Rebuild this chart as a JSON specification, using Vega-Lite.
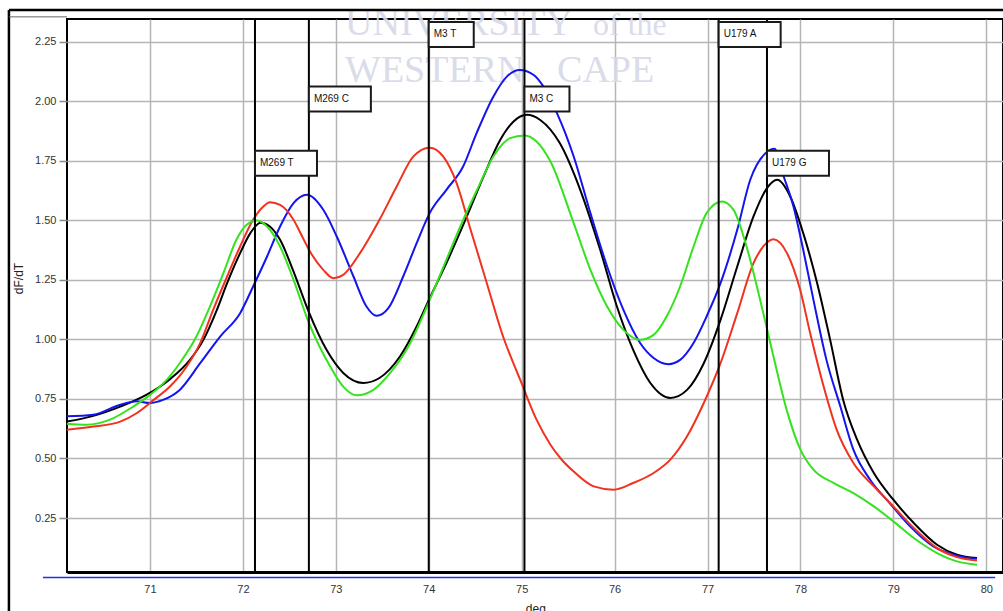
{
  "$schema": "https://vega.github.io/schema/vega-lite/v6.json",
  "width": 936,
  "height": 553,
  "autosize": {"type": "none"},
  "padding": {"left": 67, "top": 19, "right": 0, "bottom": 39},
  "background": "white",
  "config": {
    "view": {"stroke": "#000", "strokeWidth": 2},
    "font": "Liberation Sans"
  },
  "datasets": {
    "curves": [
      {"t":70.105,"v":0.655,"s":"black"},{"t":70.39,"v":0.679,"s":"black"},{"t":70.68,"v":0.718,"s":"black"},{"t":70.96,"v":0.767,"s":"black"},{"t":71.215,"v":0.833,"s":"black"},{"t":71.43,"v":0.914,"s":"black"},{"t":71.575,"v":0.998,"s":"black"},{"t":71.72,"v":1.124,"s":"black"},{"t":71.83,"v":1.236,"s":"black"},{"t":71.97,"v":1.362,"s":"black"},{"t":72.08,"v":1.446,"s":"black"},{"t":72.19,"v":1.49,"s":"black"},{"t":72.29,"v":1.474,"s":"black"},{"t":72.4,"v":1.418,"s":"black"},{"t":72.54,"v":1.29,"s":"black"},{"t":72.7,"v":1.124,"s":"black"},{"t":72.9,"v":0.956,"s":"black"},{"t":73.08,"v":0.859,"s":"black"},{"t":73.295,"v":0.817,"s":"black"},{"t":73.47,"v":0.838,"s":"black"},{"t":73.69,"v":0.928,"s":"black"},{"t":73.87,"v":1.054,"s":"black"},{"t":74.01,"v":1.173,"s":"black"},{"t":74.19,"v":1.32,"s":"black"},{"t":74.41,"v":1.516,"s":"black"},{"t":74.59,"v":1.684,"s":"black"},{"t":74.77,"v":1.838,"s":"black"},{"t":74.91,"v":1.914,"s":"black"},{"t":75.055,"v":1.943,"s":"black"},{"t":75.2,"v":1.921,"s":"black"},{"t":75.41,"v":1.824,"s":"black"},{"t":75.63,"v":1.628,"s":"black"},{"t":75.845,"v":1.376,"s":"black"},{"t":76.025,"v":1.138,"s":"black"},{"t":76.2,"v":0.956,"s":"black"},{"t":76.385,"v":0.817,"s":"black"},{"t":76.6,"v":0.754,"s":"black"},{"t":76.78,"v":0.788,"s":"black"},{"t":76.96,"v":0.9,"s":"black"},{"t":77.14,"v":1.082,"s":"black"},{"t":77.32,"v":1.306,"s":"black"},{"t":77.495,"v":1.516,"s":"black"},{"t":77.64,"v":1.635,"s":"black"},{"t":77.75,"v":1.67,"s":"black"},{"t":77.89,"v":1.6,"s":"black"},{"t":78.03,"v":1.446,"s":"black"},{"t":78.18,"v":1.236,"s":"black"},{"t":78.32,"v":0.998,"s":"black"},{"t":78.46,"v":0.746,"s":"black"},{"t":78.61,"v":0.579,"s":"black"},{"t":78.79,"v":0.439,"s":"black"},{"t":79.0,"v":0.327,"s":"black"},{"t":79.22,"v":0.229,"s":"black"},{"t":79.47,"v":0.138,"s":"black"},{"t":79.685,"v":0.096,"s":"black"},{"t":79.9,"v":0.082,"s":"black"},

      {"t":70.105,"v":0.677,"s":"blue"},{"t":70.39,"v":0.684,"s":"blue"},{"t":70.68,"v":0.726,"s":"blue"},{"t":70.86,"v":0.74,"s":"blue"},{"t":71.0,"v":0.733,"s":"blue"},{"t":71.14,"v":0.746,"s":"blue"},{"t":71.32,"v":0.788,"s":"blue"},{"t":71.54,"v":0.9,"s":"blue"},{"t":71.755,"v":1.012,"s":"blue"},{"t":71.97,"v":1.11,"s":"blue"},{"t":72.11,"v":1.222,"s":"blue"},{"t":72.26,"v":1.348,"s":"blue"},{"t":72.4,"v":1.474,"s":"blue"},{"t":72.545,"v":1.572,"s":"blue"},{"t":72.69,"v":1.607,"s":"blue"},{"t":72.865,"v":1.544,"s":"blue"},{"t":73.01,"v":1.432,"s":"blue"},{"t":73.19,"v":1.264,"s":"blue"},{"t":73.33,"v":1.138,"s":"blue"},{"t":73.44,"v":1.099,"s":"blue"},{"t":73.565,"v":1.131,"s":"blue"},{"t":73.725,"v":1.264,"s":"blue"},{"t":73.87,"v":1.404,"s":"blue"},{"t":74.01,"v":1.53,"s":"blue"},{"t":74.19,"v":1.628,"s":"blue"},{"t":74.37,"v":1.726,"s":"blue"},{"t":74.515,"v":1.866,"s":"blue"},{"t":74.695,"v":2.019,"s":"blue"},{"t":74.84,"v":2.103,"s":"blue"},{"t":74.98,"v":2.131,"s":"blue"},{"t":75.13,"v":2.11,"s":"blue"},{"t":75.235,"v":2.061,"s":"blue"},{"t":75.38,"v":1.95,"s":"blue"},{"t":75.56,"v":1.768,"s":"blue"},{"t":75.74,"v":1.53,"s":"blue"},{"t":75.92,"v":1.306,"s":"blue"},{"t":76.095,"v":1.124,"s":"blue"},{"t":76.275,"v":0.985,"s":"blue"},{"t":76.42,"v":0.922,"s":"blue"},{"t":76.58,"v":0.896,"s":"blue"},{"t":76.705,"v":0.914,"s":"blue"},{"t":76.85,"v":0.985,"s":"blue"},{"t":76.99,"v":1.096,"s":"blue"},{"t":77.14,"v":1.236,"s":"blue"},{"t":77.32,"v":1.46,"s":"blue"},{"t":77.46,"v":1.67,"s":"blue"},{"t":77.625,"v":1.782,"s":"blue"},{"t":77.72,"v":1.8,"s":"blue"},{"t":77.82,"v":1.684,"s":"blue"},{"t":77.925,"v":1.558,"s":"blue"},{"t":78.03,"v":1.376,"s":"blue"},{"t":78.14,"v":1.166,"s":"blue"},{"t":78.28,"v":0.914,"s":"blue"},{"t":78.43,"v":0.718,"s":"blue"},{"t":78.57,"v":0.537,"s":"blue"},{"t":78.75,"v":0.411,"s":"blue"},{"t":78.96,"v":0.313,"s":"blue"},{"t":79.18,"v":0.215,"s":"blue"},{"t":79.43,"v":0.131,"s":"blue"},{"t":79.685,"v":0.092,"s":"blue"},{"t":79.9,"v":0.079,"s":"blue"},

      {"t":70.105,"v":0.621,"s":"red"},{"t":70.39,"v":0.634,"s":"red"},{"t":70.68,"v":0.655,"s":"red"},{"t":70.86,"v":0.691,"s":"red"},{"t":71.04,"v":0.746,"s":"red"},{"t":71.215,"v":0.802,"s":"red"},{"t":71.395,"v":0.886,"s":"red"},{"t":71.54,"v":0.984,"s":"red"},{"t":71.68,"v":1.124,"s":"red"},{"t":71.83,"v":1.264,"s":"red"},{"t":71.97,"v":1.39,"s":"red"},{"t":72.11,"v":1.502,"s":"red"},{"t":72.22,"v":1.558,"s":"red"},{"t":72.29,"v":1.576,"s":"red"},{"t":72.4,"v":1.565,"s":"red"},{"t":72.545,"v":1.502,"s":"red"},{"t":72.615,"v":1.45,"s":"red"},{"t":72.72,"v":1.37,"s":"red"},{"t":72.865,"v":1.292,"s":"red"},{"t":72.975,"v":1.257,"s":"red"},{"t":73.08,"v":1.271,"s":"red"},{"t":73.26,"v":1.362,"s":"red"},{"t":73.47,"v":1.502,"s":"red"},{"t":73.655,"v":1.642,"s":"red"},{"t":73.835,"v":1.768,"s":"red"},{"t":74.01,"v":1.805,"s":"red"},{"t":74.155,"v":1.768,"s":"red"},{"t":74.3,"v":1.656,"s":"red"},{"t":74.44,"v":1.474,"s":"red"},{"t":74.625,"v":1.236,"s":"red"},{"t":74.8,"v":1.012,"s":"red"},{"t":74.985,"v":0.83,"s":"red"},{"t":75.16,"v":0.663,"s":"red"},{"t":75.31,"v":0.558,"s":"red"},{"t":75.42,"v":0.5,"s":"red"},{"t":75.56,"v":0.445,"s":"red"},{"t":75.775,"v":0.383,"s":"red"},{"t":75.99,"v":0.369,"s":"red"},{"t":76.2,"v":0.397,"s":"red"},{"t":76.42,"v":0.439,"s":"red"},{"t":76.6,"v":0.495,"s":"red"},{"t":76.78,"v":0.593,"s":"red"},{"t":76.96,"v":0.733,"s":"red"},{"t":77.14,"v":0.9,"s":"red"},{"t":77.32,"v":1.11,"s":"red"},{"t":77.495,"v":1.32,"s":"red"},{"t":77.6,"v":1.39,"s":"red"},{"t":77.71,"v":1.42,"s":"red"},{"t":77.855,"v":1.362,"s":"red"},{"t":77.997,"v":1.208,"s":"red"},{"t":78.105,"v":1.026,"s":"red"},{"t":78.25,"v":0.802,"s":"red"},{"t":78.39,"v":0.621,"s":"red"},{"t":78.57,"v":0.481,"s":"red"},{"t":78.79,"v":0.383,"s":"red"},{"t":79.0,"v":0.299,"s":"red"},{"t":79.22,"v":0.208,"s":"red"},{"t":79.47,"v":0.124,"s":"red"},{"t":79.685,"v":0.086,"s":"red"},{"t":79.9,"v":0.072,"s":"red"},

      {"t":70.105,"v":0.646,"s":"green"},{"t":70.32,"v":0.642,"s":"green"},{"t":70.57,"v":0.663,"s":"green"},{"t":70.82,"v":0.718,"s":"green"},{"t":71.0,"v":0.767,"s":"green"},{"t":71.18,"v":0.83,"s":"green"},{"t":71.32,"v":0.9,"s":"green"},{"t":71.5,"v":1.012,"s":"green"},{"t":71.645,"v":1.138,"s":"green"},{"t":71.79,"v":1.278,"s":"green"},{"t":71.93,"v":1.418,"s":"green"},{"t":72.04,"v":1.481,"s":"green"},{"t":72.15,"v":1.499,"s":"green"},{"t":72.26,"v":1.474,"s":"green"},{"t":72.4,"v":1.39,"s":"green"},{"t":72.545,"v":1.25,"s":"green"},{"t":72.705,"v":1.075,"s":"green"},{"t":72.94,"v":0.886,"s":"green"},{"t":73.08,"v":0.802,"s":"green"},{"t":73.225,"v":0.765,"s":"green"},{"t":73.405,"v":0.788,"s":"green"},{"t":73.585,"v":0.859,"s":"green"},{"t":73.8,"v":0.984,"s":"green"},{"t":73.98,"v":1.138,"s":"green"},{"t":74.16,"v":1.306,"s":"green"},{"t":74.34,"v":1.474,"s":"green"},{"t":74.52,"v":1.628,"s":"green"},{"t":74.695,"v":1.768,"s":"green"},{"t":74.875,"v":1.845,"s":"green"},{"t":75.03,"v":1.856,"s":"green"},{"t":75.16,"v":1.831,"s":"green"},{"t":75.31,"v":1.747,"s":"green"},{"t":75.56,"v":1.488,"s":"green"},{"t":75.74,"v":1.292,"s":"green"},{"t":75.92,"v":1.138,"s":"green"},{"t":76.095,"v":1.04,"s":"green"},{"t":76.275,"v":0.998,"s":"green"},{"t":76.42,"v":1.019,"s":"green"},{"t":76.56,"v":1.096,"s":"green"},{"t":76.705,"v":1.222,"s":"green"},{"t":76.85,"v":1.39,"s":"green"},{"t":76.99,"v":1.53,"s":"green"},{"t":77.155,"v":1.579,"s":"green"},{"t":77.28,"v":1.544,"s":"green"},{"t":77.42,"v":1.39,"s":"green"},{"t":77.57,"v":1.16,"s":"green"},{"t":77.71,"v":0.928,"s":"green"},{"t":77.855,"v":0.7,"s":"green"},{"t":78.0,"v":0.537,"s":"green"},{"t":78.14,"v":0.453,"s":"green"},{"t":78.36,"v":0.397,"s":"green"},{"t":78.57,"v":0.355,"s":"green"},{"t":78.79,"v":0.299,"s":"green"},{"t":79.0,"v":0.236,"s":"green"},{"t":79.22,"v":0.166,"s":"green"},{"t":79.47,"v":0.103,"s":"green"},{"t":79.685,"v":0.068,"s":"green"},{"t":79.9,"v":0.054,"s":"green"}
    ],
    "markers": [
      {"name": "M269 T", "t": 72.13, "level": 1.739, "box": "wide"},
      {"name": "M269 C", "t": 72.71, "level": 2.009, "box": "wide"},
      {"name": "M3 T", "t": 74.0, "level": 2.28, "box": "narrow"},
      {"name": "M3 C", "t": 75.03, "level": 2.009, "box": "narrow"},
      {"name": "U179 A", "t": 77.12, "level": 2.28, "box": "wide"},
      {"name": "U179 G", "t": 77.64, "level": 1.739, "box": "wide"}
    ],
    "one": [{}]
  },
  "layer": [
    {
      "data": {"name": "curves"},
      "mark": {"type": "line", "interpolate": "monotone", "strokeWidth": 2, "opacity": 0},
      "encoding": {
        "x": {"field": "t", "type": "quantitative", "title": "deg.",
              "scale": {"domain": [70.107, 80.18], "nice": false, "zero": false},
              "axis": {"values": [71,72,73,74,75,76,77,78,79,80], "format": "d", "grid": true, "gridColor": "#b5b5b5", "gridWidth": 1.5, "ticks": false, "labelPadding": 11, "labelFont": "Liberation Sans", "labelFontSize": 11, "labelColor": "#333", "domain": true, "domainColor": "#000", "domainWidth": 3, "titleFont": "Liberation Sans", "titleFontSize": 12, "titleFontWeight": "normal", "titleColor": "#222", "titleBaseline": "top", "titleY": 31, "titleX": 470}},
        "y": {"field": "v", "type": "quantitative", "title": "dF/dT",
              "scale": {"domain": [0.0235, 2.345], "nice": false, "zero": false},
              "axis": {"values": [0.25,0.5,0.75,1.0,1.25,1.5,1.75,2.0,2.25], "format": ".2f", "grid": true, "gridColor": "#b5b5b5", "gridWidth": 1.5, "ticks": true, "tickColor": "#888", "tickSize": 8, "tickWidth": 1.5, "labelPadding": 3, "labelFont": "Liberation Sans", "labelFontSize": 11, "labelColor": "#333", "domain": false, "titleFont": "Liberation Sans", "titleFontSize": 12, "titleFontWeight": "normal", "titleColor": "#222", "titleBaseline": "middle", "titleX": -49, "titleY": 259}},
        "detail": {"field": "s", "type": "nominal"}
      }
    },
    {
      "data": {"values": [
        {"w": "UNIVERSITY", "t": 73.099, "v": 2.278, "st": "normal", "sz": 38},
        {"w": "of the", "t": 75.768, "v": 2.278, "st": "italic", "sz": 32},
        {"w": "WESTERN", "t": 73.099, "v": 2.081, "st": "normal", "sz": 38},
        {"w": "CAPE", "t": 75.381, "v": 2.081, "st": "normal", "sz": 38}
      ]},
      "mark": {"type": "text", "align": "left", "baseline": "alphabetic", "font": "Liberation Serif", "fill": "#d6d9e8", "opacity": 0.9},
      "encoding": {
        "x": {"field": "t", "type": "quantitative", "title": "deg.", "scale": {"domain": [70.107, 80.18], "nice": false, "zero": false}},
        "y": {"field": "v", "type": "quantitative", "title": "dF/dT", "scale": {"domain": [0.0235, 2.345], "nice": false, "zero": false}},
        "text": {"field": "w"},
        "fontStyle": {"field": "st", "type": "nominal", "scale": null},
        "size": {"field": "sz", "type": "quantitative", "scale": null}
      }
    },
    {
      "data": {"name": "curves"},
      "mark": {"type": "line", "interpolate": "monotone", "strokeWidth": 2},
      "encoding": {
        "x": {"field": "t", "type": "quantitative", "title": "deg.", "scale": {"domain": [70.107, 80.18], "nice": false, "zero": false}},
        "y": {"field": "v", "type": "quantitative", "title": "dF/dT", "scale": {"domain": [0.0235, 2.345], "nice": false, "zero": false}},
        "color": {"field": "s", "type": "nominal", "legend": null,
                  "scale": {"domain": ["black", "blue", "red", "green"], "range": ["#000000", "#1414ee", "#f0321e", "#35e21e"]}},
        "order": {"field": "t", "type": "quantitative"}
      }
    },
    {
      "data": {"name": "markers"},
      "mark": {"type": "rule", "color": "#000", "strokeWidth": 2},
      "encoding": {
        "x": {"field": "t", "type": "quantitative", "title": "deg.", "scale": {"domain": [70.107, 80.18], "nice": false, "zero": false}}
      }
    },
    {
      "data": {"name": "markers"},
      "transform": [{"filter": "datum.box === 'wide'"}],
      "mark": {"type": "rect", "fill": "white", "stroke": "#1a1a1a", "strokeWidth": 2, "x2Offset": 62, "yOffset": -12.5, "y2Offset": 12.5},
      "encoding": {
        "x": {"field": "t", "type": "quantitative", "title": "deg.", "scale": {"domain": [70.107, 80.18], "nice": false, "zero": false}},
        "x2": {"field": "t"},
        "y": {"field": "level", "type": "quantitative", "title": "dF/dT", "scale": {"domain": [0.0235, 2.345], "nice": false, "zero": false}},
        "y2": {"field": "level"}
      }
    },
    {
      "data": {"name": "markers"},
      "transform": [{"filter": "datum.box === 'narrow'"}],
      "mark": {"type": "rect", "fill": "white", "stroke": "#1a1a1a", "strokeWidth": 2, "x2Offset": 45, "yOffset": -12.5, "y2Offset": 12.5},
      "encoding": {
        "x": {"field": "t", "type": "quantitative", "title": "deg.", "scale": {"domain": [70.107, 80.18], "nice": false, "zero": false}},
        "x2": {"field": "t"},
        "y": {"field": "level", "type": "quantitative", "title": "dF/dT", "scale": {"domain": [0.0235, 2.345], "nice": false, "zero": false}},
        "y2": {"field": "level"}
      }
    },
    {
      "data": {"name": "markers"},
      "mark": {"type": "text", "align": "left", "baseline": "middle", "dx": 5, "font": "Liberation Sans", "fontSize": 10, "fill": "#111"},
      "encoding": {
        "x": {"field": "t", "type": "quantitative", "title": "deg.", "scale": {"domain": [70.107, 80.18], "nice": false, "zero": false}},
        "y": {"field": "level", "type": "quantitative", "title": "dF/dT", "scale": {"domain": [0.0235, 2.345], "nice": false, "zero": false}},
        "text": {"field": "name"}
      }
    },
    {
      "data": {"name": "one"},
      "mark": {"type": "rule", "color": "#2030ee", "strokeWidth": 1.5, "clip": false},
      "encoding": {
        "x": {"datum": 69.848, "type": "quantitative", "title": "deg.", "scale": {"domain": [70.107, 80.18], "nice": false, "zero": false}},
        "x2": {"datum": 80.096},
        "y": {"datum": 0, "type": "quantitative", "title": "dF/dT", "scale": {"domain": [0.0235, 2.345], "nice": false, "zero": false}}
      }
    },
    {
      "data": {"name": "one"},
      "mark": {"type": "rule", "color": "#000", "strokeWidth": 2.5, "clip": false},
      "encoding": {
        "x": {"datum": 69.482, "type": "quantitative", "title": "deg.", "scale": {"domain": [70.107, 80.18], "nice": false, "zero": false}},
        "y": {"datum": -0.15, "type": "quantitative", "title": "dF/dT", "scale": {"domain": [0.0235, 2.345], "nice": false, "zero": false}},
        "y2": {"datum": 2.383}
      }
    },
    {
      "data": {"name": "one"},
      "mark": {"type": "rule", "color": "#000", "strokeWidth": 2.5, "clip": false},
      "encoding": {
        "x": {"datum": 69.482, "type": "quantitative", "title": "deg.", "scale": {"domain": [70.107, 80.18], "nice": false, "zero": false}},
        "x2": {"datum": 80.2},
        "y": {"datum": 2.383, "type": "quantitative", "title": "dF/dT", "scale": {"domain": [0.0235, 2.345], "nice": false, "zero": false}}
      }
    },
    {
      "data": {"name": "one"},
      "mark": {"type": "rule", "color": "#666", "strokeWidth": 1, "clip": false},
      "encoding": {
        "x": {"datum": 69.482, "type": "quantitative", "title": "deg.", "scale": {"domain": [70.107, 80.18], "nice": false, "zero": false}},
        "x2": {"datum": 70.107},
        "y": {"datum": 2.354, "type": "quantitative", "title": "dF/dT", "scale": {"domain": [0.0235, 2.345], "nice": false, "zero": false}}
      }
    }
  ]
}
